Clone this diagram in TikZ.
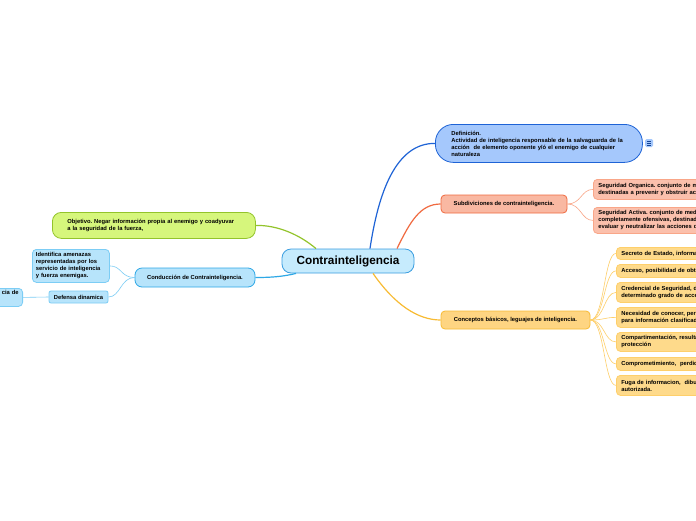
\documentclass[tikz,border=0pt]{standalone}
\usepackage{fontspec}
\setmainfont{Liberation Sans}
\frenchspacing
\definecolor{cenF}{HTML}{C6EBFD}\definecolor{cenD}{HTML}{3B9EE0}
\definecolor{defF}{HTML}{A5C8FC}\definecolor{defD}{HTML}{1E63D6}
\definecolor{subF}{HTML}{F9B8A2}\definecolor{subD}{HTML}{F06A40}
\definecolor{subcF}{HTML}{FBC0AC}\definecolor{subcD}{HTML}{F9A688}
\definecolor{conF}{HTML}{FED582}\definecolor{conD}{HTML}{F8BB33}
\definecolor{concF}{HTML}{FEDA8B}\definecolor{concD}{HTML}{FECF6A}
\definecolor{objF}{HTML}{D6F67C}\definecolor{objD}{HTML}{93C42B}
\definecolor{cndF}{HTML}{B7E4FB}\definecolor{cndD}{HTML}{2EA8E6}
\definecolor{cndcD}{HTML}{7CCDF5}
\begin{document}
\begin{tikzpicture}[x=1pt,y=-1pt,
  font=\bfseries\fontsize{5.8}{7}\selectfont\frenchspacing,
  box/.style={draw, rounded corners=4pt, line width=0.8pt, inner ysep=0pt, align=left},
  mainline/.style={line width=1.2pt},
  subline/.style={line width=0.6pt}]
\useasboundingbox (0,0) rectangle (696,520);
\clip (0,0) rectangle (696,520);
\fill[white] (0,0) rectangle (696,520);

% central
\node[box, fill=cenF, draw=cenD, rounded corners=9pt, align=center,
  minimum width=132pt, minimum height=24pt,
  font=\bfseries\fontsize{11.8}{13}\selectfont] (c) at (348,261) {Contrainteligencia};

% Definicion
\node[box, fill=defF, draw=defD, rounded corners=18pt, anchor=north west,
  minimum width=207pt, minimum height=38pt, text width=175pt, inner xsep=16pt] (def) at (435,124)
 {Definición.\\Actividad de inteligencia responsable de la salvaguarda de la\\acción\ \ de elemento oponente y/ó el enemigo de cualquier\\naturaleza};
\node[fill=defF, rounded corners=1.5pt, minimum width=8pt, minimum height=8pt, inner sep=0pt] (ico) at (649,143) {};
\foreach \yy in {-2,0,2} \draw[line width=0.6pt, defD!70!black] ([xshift=-2.2pt,yshift=\yy pt]ico.center) -- ([xshift=2.2pt,yshift=\yy pt]ico.center);

% Subdiviciones
\node[box, fill=subF, draw=subD, align=center, minimum width=126pt, minimum height=18pt] (sub) at (504,204)
 {Subdiviciones de contrainteligencia.};
\node[box, fill=subcF, draw=subcD, anchor=north west, minimum width=160pt, minimum height=20pt,
  text width=150pt, inner xsep=4pt] (so) at (593,179)
 {Seguridad Organica. conjunto de medidas\\destinadas a prevenir y obstruir acciones};
\node[box, fill=subcF, draw=subcD, anchor=north west, minimum width=160pt, minimum height=26pt,
  text width=150pt, inner xsep=4pt] (sa) at (593,207)
 {Seguridad Activa. conjunto de medidas\\completamente ofensivas, destinadas\\evaluar y neutralizar las acciones de};

% Conceptos
\node[box, fill=conF, draw=conD, align=center, minimum width=149pt, minimum height=18pt] (con) at (515.5,320)
 {Conceptos básicos, leguajes de inteligencia.};
\tikzset{cc/.style={box, fill=concF, draw=concD, anchor=north west, minimum width=160pt,
  text width=150pt, inner xsep=4pt}}
\node[cc, minimum height=12pt] (k1) at (616,247) {Secreto de Estado, información};
\node[cc, minimum height=13pt] (k2) at (616,264) {Acceso, posibilidad de obtener};
\node[cc, minimum height=20pt] (k3) at (616,282) {Credencial de Seguridad, documento\\determinado grado de acceso};
\node[cc, minimum height=20pt] (k4) at (616,307) {Necesidad de conocer, permiso\\para información clasificada};
\node[cc, minimum height=19pt] (k5) at (616,332) {Compartimentación, resulta\\protección};
\node[cc, minimum height=13pt] (k6) at (616,357) {Comprometimiento,\ \ perdida};
\node[cc, minimum height=20pt] (k7) at (616,375) {Fuga de informacion,\ \ dibulgación\\autorizada.};

% Objetivo
\node[box, fill=objF, draw=objD, rounded corners=9pt, anchor=north west,
  minimum width=203pt, minimum height=26pt, text width=173pt, inner xsep=15pt] (obj) at (52,212)
 {Objetivo. Negar información propia al enemigo y coadyuvar\\a la seguridad de la fuerza,};

% Conduccion
\node[box, fill=cndF, draw=cndD, rounded corners=7pt, align=center, minimum width=120pt, minimum height=19pt] (cnd) at (195,277.5)
 {Conducción de Contrainteligencia.};
\node[box, fill=cndF, draw=cndcD, anchor=north west, minimum width=76pt, minimum height=33pt,
  text width=70pt, inner xsep=3.5pt] (ide) at (32,249)
 {Identifica amenazas\\representadas por los\\servicio de inteligencia\\y fuerza enemigas.};
\node[box, fill=cndF, draw=cndcD, rounded corners=2pt, align=center, minimum width=59pt, minimum height=12pt] (dd) at (78.5,297)
 {Defensa dinamica};
\node[box, fill=cndF, draw=cndcD, anchor=north east, minimum width=50pt, minimum height=18pt,
  text width=42pt, inner xsep=4pt, align=right] (cia) at (23,288)
 {cia de\hspace*{6pt}\\\strut};

% connectors
\draw[mainline, defD] ([xshift=22pt]c.north) .. controls (378,195) and (395,143) .. (def.west);
\draw[mainline, subD] ([xshift=49pt]c.north) .. controls (410,222) and (420,204) .. (sub.west);
\draw[mainline, conD] ([xshift=25pt]c.south) .. controls (395,305) and (418,320) .. (con.west);
\draw[mainline, objD] ([xshift=-32pt]c.north) .. controls (300,235) and (278,225) .. (obj.east);
\draw[mainline, cndD] ([xshift=-52pt]c.south) .. controls (282,277) and (268,277.5) .. (cnd.east);

\foreach \n in {so,sa}
  \draw[subline, subcD] (sub.east) .. controls ([xshift=14pt]sub.east) and ([xshift=-12pt]\n.west) .. (\n.west);
\foreach \n in {k1,k2,k3,k4,k5,k6,k7}
  \draw[subline, concD] (con.east) .. controls ([xshift=14pt]con.east) and ([xshift=-12pt]\n.west) .. (\n.west);
\foreach \n in {ide,dd}
  \draw[subline, cndcD] (cnd.west) .. controls ([xshift=-14pt]cnd.west) and ([xshift=12pt]\n.east) .. (\n.east);
\draw[subline, cndcD] (dd.west) -- (cia.east);
\end{tikzpicture}
\end{document}
